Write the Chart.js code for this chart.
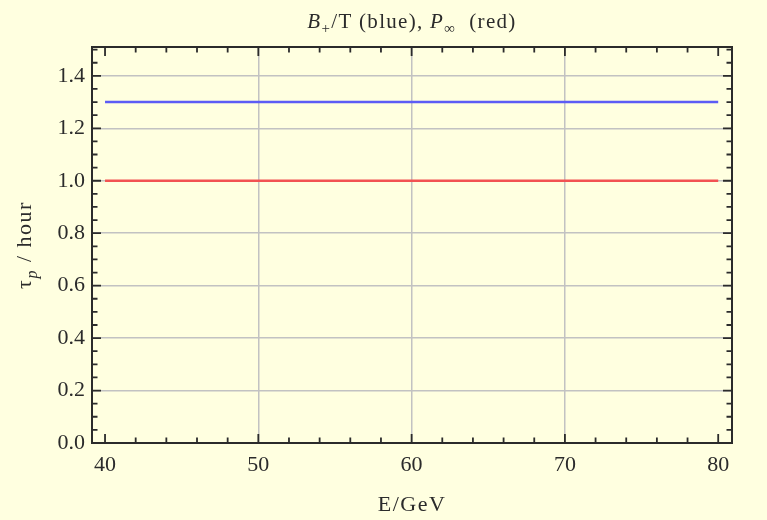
<!DOCTYPE html>
<html>
<head>
<meta charset="utf-8">
<script src="https://cdn.jsdelivr.net/npm/chart.js@4"></script>
<style>
  body { margin: 0; background: #ffffe0; }
  #wrap { width: 767px; height: 520px; }
</style>
</head>
<body>
<div id="wrap"><canvas id="tauChart"></canvas></div>
<script>
// data: two flat lifetimes over E = 40..80 GeV
const energies = [40, 80];
const bPlusOverT = [1.3, 1.3];   // blue
const pInfinity = [1.0, 1.0];    // red

// tick labels
const xTicks = [40, 50, 60, 70, 80];
const yTicks = [0.0, 0.2, 0.4, 0.6, 0.8, 1.0, 1.2, 1.4];

const SERIF = "'Liberation Serif', 'DejaVu Serif', serif";
const INK = '#2b2b2b';

function pts(xs, ys) {
    return xs.map((x, i) => ({ x: x, y: ys[i] }));
}

// draws a run of [text, style] pieces, style: 'n' normal, 'i' italic, 'sub' subscript, 'isub' italic subscript
function drawPieces(ctx, pieces, size, cx, cy, spacing) {
    const fontFor = st => {
        const small = st === 'sub' || st === 'isub';
        const ital = st === 'i' || st === 'isub';
        return (ital ? 'italic ' : '') + Math.round(small ? size * 0.72 : size) + 'px ' + SERIF;
    };
    ctx.letterSpacing = (spacing || 0) + 'px';
    let total = 0;
    pieces.forEach(p => { ctx.font = fontFor(p[1]); total += ctx.measureText(p[0]).width; });
    let x = cx - total / 2;
    ctx.textBaseline = 'alphabetic';
    ctx.textAlign = 'left';
    pieces.forEach(p => {
        ctx.font = fontFor(p[1]);
        const dy = (p[1] === 'sub' || p[1] === 'isub') ? size * 0.25 : 0;
        ctx.fillText(p[0], x, cy + dy);
        x += ctx.measureText(p[0]).width;
    });
    ctx.letterSpacing = '0px';
}

// Mathematica style frame: box + inward ticks on all four sides, plus labels
const framePlugin = {
    id: 'frame',
    afterDatasetsDraw(chart) {
        const ctx = chart.ctx;
        const a = chart.chartArea;
        const xs = chart.scales.x, ys = chart.scales.y;
        ctx.save();
        ctx.strokeStyle = INK;
        ctx.lineWidth = 2;
        ctx.strokeRect(a.left, a.top, a.right - a.left, a.bottom - a.top);

        ctx.lineWidth = 1.8;
        ctx.beginPath();
        for (let v = 40; v <= 80.001; v += 2) {
            const px = xs.getPixelForValue(v);
            const len = (Math.round(v) % 10 === 0) ? 9 : 5.5;
            ctx.moveTo(px, a.bottom); ctx.lineTo(px, a.bottom - len);
            ctx.moveTo(px, a.top); ctx.lineTo(px, a.top + len);
        }
        for (let k = 0; k <= 30; k++) {
            const v = k * 0.05;
            const py = ys.getPixelForValue(v);
            const len = (k % 4 === 0) ? 9 : 5.5;
            ctx.moveTo(a.left, py); ctx.lineTo(a.left + len, py);
            ctx.moveTo(a.right, py); ctx.lineTo(a.right - len, py);
        }
        ctx.stroke();

        ctx.fillStyle = INK;
        const mid = (a.left + a.right) / 2;
        drawPieces(ctx, [['B', 'i'], ['+', 'sub'], ['/T (blue), ', 'n'], ['P', 'i'], ['\u221E', 'sub'], ['  (red)', 'n']], 21, mid, 28, 1.3);
        drawPieces(ctx, [['E/GeV', 'n']], 22, mid, 511, 1.5);

        ctx.translate(31, (a.top + a.bottom) / 2);
        ctx.rotate(-Math.PI / 2);
        drawPieces(ctx, [['\u03C4', 'n'], ['p', 'isub'], [' / hour', 'n']], 22, 0, 0, 1.5);
        ctx.restore();
    }
};

new Chart(document.getElementById('tauChart'), {
    type: 'line',
    data: {
        datasets: [
            {
                label: 'B+/T',
                data: pts(energies, bPlusOverT),
                borderColor: '#5c5cf5',
                borderWidth: 2.5,
                pointRadius: 0,
                fill: false
            },
            {
                label: 'P∞',
                data: pts(energies, pInfinity),
                borderColor: '#f25252',
                borderWidth: 2.5,
                pointRadius: 0,
                fill: false
            }
        ]
    },
    options: {
        responsive: true,
        maintainAspectRatio: false,
        animation: false,
        layout: { padding: { top: 47, right: 35, left: 0, bottom: 0 } },
        plugins: {
            legend: { display: false },
            tooltip: { enabled: false },
            title: { display: false }
        },
        scales: {
            x: {
                type: 'linear',
                min: 39.15,
                max: 80.9,
                afterBuildTicks: s => { s.ticks = xTicks.map(v => ({ value: v })); },
                afterFit: s => { s.height = 77; },
                grid: {
                    // no grid at the plot edges (40, 80)
                    color: c => (c.tick && (c.tick.value === 40 || c.tick.value === 80)) ? 'rgba(0,0,0,0)' : '#c2c2c2',
                    lineWidth: 1.5,
                    drawTicks: false
                },
                border: { display: false },
                ticks: {
                    padding: 9,
                    color: INK,
                    font: { family: SERIF, size: 22 },
                    maxRotation: 0,
                    callback: v => String(v)
                }
            },
            y: {
                type: 'linear',
                min: 0,
                max: 1.51,
                afterBuildTicks: s => { s.ticks = yTicks.map(v => ({ value: v })); },
                afterFit: s => { s.width = 92; },
                grid: { color: '#c2c2c2', lineWidth: 1.5, drawTicks: false },
                border: { display: false },
                ticks: {
                    padding: 7,
                    color: INK,
                    font: { family: SERIF, size: 22 },
                    callback: v => v.toFixed(1)
                }
            }
        }
    },
    plugins: [framePlugin]
});
</script>
</body>
</html>
